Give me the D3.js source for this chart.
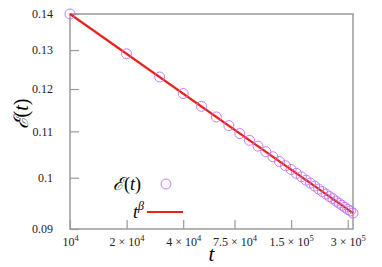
<!DOCTYPE html>
<html>
<head>
<meta charset="utf-8">
<script src="https://cdn.jsdelivr.net/npm/d3@7"></script>
<style>
  body { margin: 0; background: #fff; }
</style>
</head>
<body>
<svg id="chart" width="382" height="267" font-family="'Liberation Serif', 'DejaVu Serif', serif"></svg>
<script>
// time steps t and measured E(t)
const tValues = [1e4, 2e4, 3e4, 4e4, 5e4, 6e4, 7e4, 8e4, 9e4, 10e4, 11e4, 12e4, 13e4, 14e4, 15e4, 16e4,
  17e4, 18e4, 19e4, 20e4, 21e4, 22e4, 23e4, 24e4, 25e4, 26e4, 27e4, 28e4, 29e4, 30e4, 31e4, 32e4];
const eValues = [0.1400, 0.1290, 0.1230, 0.1189, 0.1158, 0.1133, 0.1113, 0.1095, 0.1080, 0.1067, 0.1055,
  0.1044, 0.1034, 0.1025, 0.1017, 0.1009, 0.1002, 0.0995, 0.0989, 0.0983, 0.0977, 0.0972, 0.0967,
  0.0962, 0.0958, 0.0953, 0.0949, 0.0945, 0.0941, 0.0937, 0.0934, 0.0930];
// fitted power law t^beta (endpoints)
const fitT = [1e4, 3.2e5];
const fitE = [0.1400, 0.0930];

const xTicks = [1e4, 2e4, 4e4, 7.5e4, 1.5e5, 3e5];
const xTickLabels = [["", "10", "4"], ["2 × ", "10", "4"], ["4 × ", "10", "4"], ["7.5 × ", "10", "4"], ["1.5 × ", "10", "5"], ["3 × ", "10", "5"]];
const yTicks = [0.09, 0.1, 0.11, 0.12, 0.13, 0.14];
const yTickLabels = ["0.09", "0.1", "0.11", "0.12", "0.13", "0.14"];

let margin = {left: 70, top: 14, right: 29, bottom: 38};
let W = 382, H = 267;
let serif = "'Liberation Serif', 'DejaVu Serif', serif";

let svg = d3.select("#chart");

let x = d3.scaleLog().domain([1e4, 3.2e5]).range([margin.left, W - margin.right]);
let y = d3.scaleLog().domain([0.09, 0.14]).range([H - margin.bottom, margin.top]);

let axisColor = "#9a9a9a";

// frame
svg.append("rect")
  .attr("x", x.range()[0]).attr("y", y.range()[1])
  .attr("width", x.range()[1] - x.range()[0])
  .attr("height", y.range()[0] - y.range()[1])
  .attr("fill", "none").attr("stroke", axisColor).attr("stroke-width", 1.5);

// y axis
let yAxis = d3.axisLeft(y).tickValues(yTicks).tickSize(-9)
  .tickFormat((d, i) => yTickLabels[i]).tickPadding(17);
let gy = svg.append("g").attr("transform", `translate(${margin.left},0)`).call(yAxis);
gy.attr("font-family", serif).attr("font-size", 12);
gy.select(".domain").remove();
gy.selectAll("line").attr("stroke", axisColor).attr("stroke-width", 1.2);
gy.selectAll("text").attr("fill", "#222");

// x axis
let xAxis = d3.axisBottom(x).tickValues(xTicks).tickSize(-9).tickFormat("");
let gx = svg.append("g").attr("transform", `translate(0,${H - margin.bottom})`).call(xAxis);
gx.attr("font-family", serif).attr("font-size", 12);
gx.select(".domain").remove();
gx.selectAll("line").attr("stroke", axisColor).attr("stroke-width", 1.2);
gx.selectAll(".tick").append("text")
  .attr("y", 17)
  .attr("text-anchor", "middle")
  .attr("fill", "#222")
  .each(function(d, i) {
    let lab = xTickLabels[i];
    let t = d3.select(this);
    t.append("tspan").text(lab[0] + lab[1]);
    t.append("tspan").attr("dy", -5).attr("font-size", 8.5).text(lab[2]);
  });

// axis titles
svg.append("text")
  .attr("x", (x.range()[0] + x.range()[1]) / 2)
  .attr("y", 261)
  .attr("text-anchor", "middle")
  .attr("font-size", 21).attr("font-style", "italic")
  .text("t");

svg.append("text")
  .attr("transform", "translate(28,114) rotate(-90)")
  .attr("text-anchor", "middle")
  .attr("font-size", 20)
  .html('<tspan font-family="DejaVu Serif" font-style="italic">ℰ</tspan>(<tspan font-style="italic">t</tspan>)');

// fit line
let pts = d3.range(tValues.length).map(i => [tValues[i], eValues[i]]);
let fit = fitT.map((t, i) => [t, fitE[i]]);

svg.append("path")
  .datum(fit)
  .attr("d", d3.line().x(d => x(d[0])).y(d => y(d[1])))
  .attr("fill", "none").attr("stroke", "#e8231a").attr("stroke-width", 2.2);

svg.append("g").selectAll("circle")
  .data(pts).enter().append("circle")
  .attr("cx", d => x(d[0]))
  .attr("cy", d => y(d[1]))
  .attr("r", 5)
  .attr("fill", "none")
  .attr("stroke", "#c070f0")
  .attr("stroke-width", 0.9);

// legend
let leg = svg.append("g");
leg.append("text")
  .attr("x", 141).attr("y", 190)
  .attr("text-anchor", "end")
  .attr("font-size", 18)
  .html('<tspan font-family="DejaVu Serif" font-style="italic">ℰ</tspan>(<tspan font-style="italic">t</tspan>)');
leg.append("circle")
  .attr("cx", 166).attr("cy", 184).attr("r", 5)
  .attr("fill", "none").attr("stroke", "#c070f0").attr("stroke-width", 0.9);
leg.append("text")
  .attr("x", 144).attr("y", 218)
  .attr("text-anchor", "end")
  .attr("font-size", 18)
  .html('<tspan font-style="italic">t</tspan><tspan dy="-8" font-size="12" font-style="italic">β</tspan>');
leg.append("line")
  .attr("x1", 147).attr("x2", 183).attr("y1", 212).attr("y2", 212)
  .attr("stroke", "#e8231a").attr("stroke-width", 2.2);
</script>
</body>
</html>
